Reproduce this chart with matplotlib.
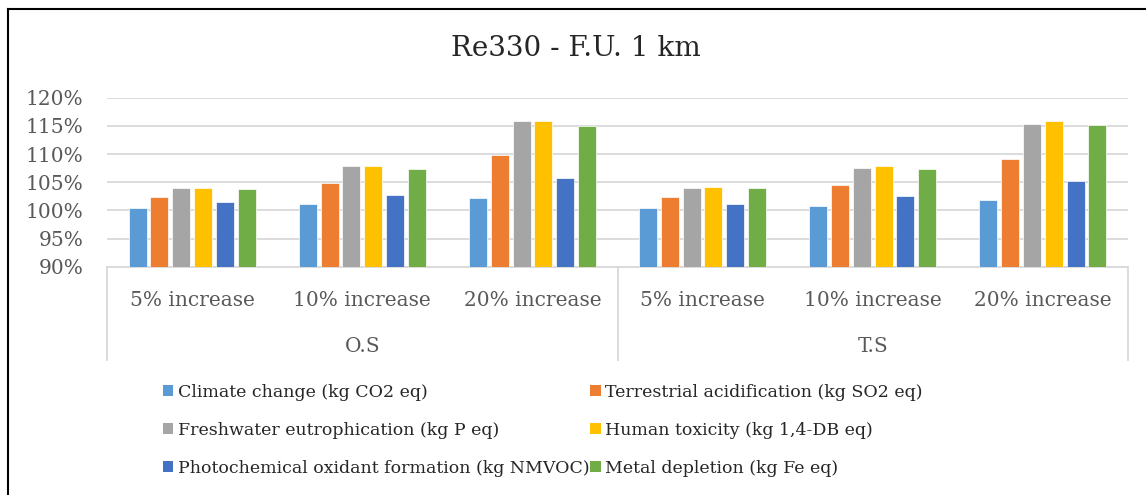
import matplotlib
matplotlib.use("Agg")
import matplotlib.pyplot as plt
from matplotlib.lines import Line2D
from matplotlib.patches import Patch
from matplotlib.transforms import blended_transform_factory
from matplotlib.ticker import FuncFormatter

plt.rcParams['font.family'] = ['DejaVu Serif']

# Data
groups = ["O.S", "T.S"]
scenarios = ["5% increase", "10% increase", "20% increase"]
series = [
    "Climate change (kg CO2 eq)",
    "Terrestrial acidification (kg SO2 eq)",
    "Freshwater eutrophication (kg P eq)",
    "Human toxicity (kg 1,4-DB eq)",
    "Photochemical oxidant formation (kg NMVOC)",
    "Metal depletion (kg Fe eq)",
]
climate_change = [100.5, 101.1, 102.2, 100.4, 100.8, 101.9]
terrestrial_acid = [102.4, 104.8, 109.8, 102.3, 104.5, 109.2]
freshwater_eutro = [104.0, 107.8, 115.8, 103.9, 107.6, 115.4]
human_toxicity = [104.0, 107.8, 115.9, 104.1, 107.8, 115.8]
photochem_oxidant = [101.4, 102.8, 105.8, 101.2, 102.5, 105.3]
metal_depletion = [103.8, 107.4, 114.9, 103.9, 107.4, 115.1]
values = [climate_change, terrestrial_acid, freshwater_eutro,
          human_toxicity, photochem_oxidant, metal_depletion]
colors = ["#5B9BD5", "#ED7D31", "#A5A5A5", "#FFC000", "#4472C4", "#70AD47"]
y_ticks = [90, 95, 100, 105, 110, 115, 120]

W, H = 1146, 495
fig = plt.figure(figsize=(W / 100, H / 100), dpi=100)

def fx(px):
    return px / W

def fy(py):
    return 1 - py / H

ax_left, ax_right, ax_top, ax_bottom = 107, 1128, 97.7, 266.7
ax = fig.add_axes([fx(ax_left), fy(ax_bottom), fx(ax_right - ax_left),
                   (ax_bottom - ax_top) / H])

n_cat = len(groups) * len(scenarios)
pitch = 0.128
width = 0.106
for j, (vals, col) in enumerate(zip(values, colors)):
    xs = [i + 0.5 + (j - 2.5) * pitch for i in range(n_cat)]
    ax.bar(xs, [v - 90 for v in vals], bottom=90, width=width, color=col,
           edgecolor="white", linewidth=0.5, zorder=3)

ax.set_xlim(0, n_cat)
ax.set_ylim(90, 120)
ax.set_yticks(y_ticks)
ax.yaxis.set_major_formatter(FuncFormatter(lambda v, p: f"{v:.0f}%"))
ax.tick_params(axis="y", length=0, pad=17, labelsize=14.5, labelcolor="#595959")
ax.set_xticks([])
ax.grid(axis="y", color="#D9D9D9", linewidth=1.3, zorder=0)
for s in ["top", "right", "left"]:
    ax.spines[s].set_visible(False)
ax.spines["bottom"].set_color("#D9D9D9")
ax.spines["bottom"].set_linewidth(1.3)

# Multi-level category axis
tr = blended_transform_factory(ax.transData, fig.transFigure)
for k in range(len(groups) + 1):
    xk = k * len(scenarios)
    ax.add_line(Line2D([xk, xk], [fy(ax_bottom), fy(360)], transform=tr,
                       color="#D9D9D9", linewidth=1.3, clip_on=False))
for i in range(n_cat):
    ax.text(i + 0.5, fy(300), scenarios[i % len(scenarios)], transform=tr,
            ha="center", va="center", fontsize=14.5, color="#595959")
for g, name in enumerate(groups):
    ax.text(g * len(scenarios) + len(scenarios) / 2, fy(346), name, transform=tr,
            ha="center", va="center", fontsize=14.5, color="#595959")

# Title
fig.text(fx(576), fy(49), "Re330 - F.U. 1 km", ha="center", va="center",
         fontsize=20, color="#262626")

# Legend, filled row by row
order = [0, 2, 4, 1, 3, 5]
handles = [Patch(facecolor=colors[k], edgecolor="none") for k in order]
labels = [series[k] for k in order]
fig.legend(handles, labels, ncol=2, loc="upper left",
           bbox_to_anchor=(fx(163), fy(384)), frameon=False,
           fontsize=12.5, handlelength=0.6, handleheight=0.6,
           handletextpad=0.25, labelspacing=1.21, columnspacing=0.05,
           labelcolor="#262626", borderaxespad=0, borderpad=0)

# Chart border
fig.add_artist(Line2D([fx(7.5), fx(7.5)], [fy(9), 0], transform=fig.transFigure,
                      color="black", linewidth=1.5))
fig.add_artist(Line2D([fx(7.5), 1], [fy(9), fy(9)], transform=fig.transFigure,
                      color="black", linewidth=1.5))

fig.savefig("out.png", dpi=100)
